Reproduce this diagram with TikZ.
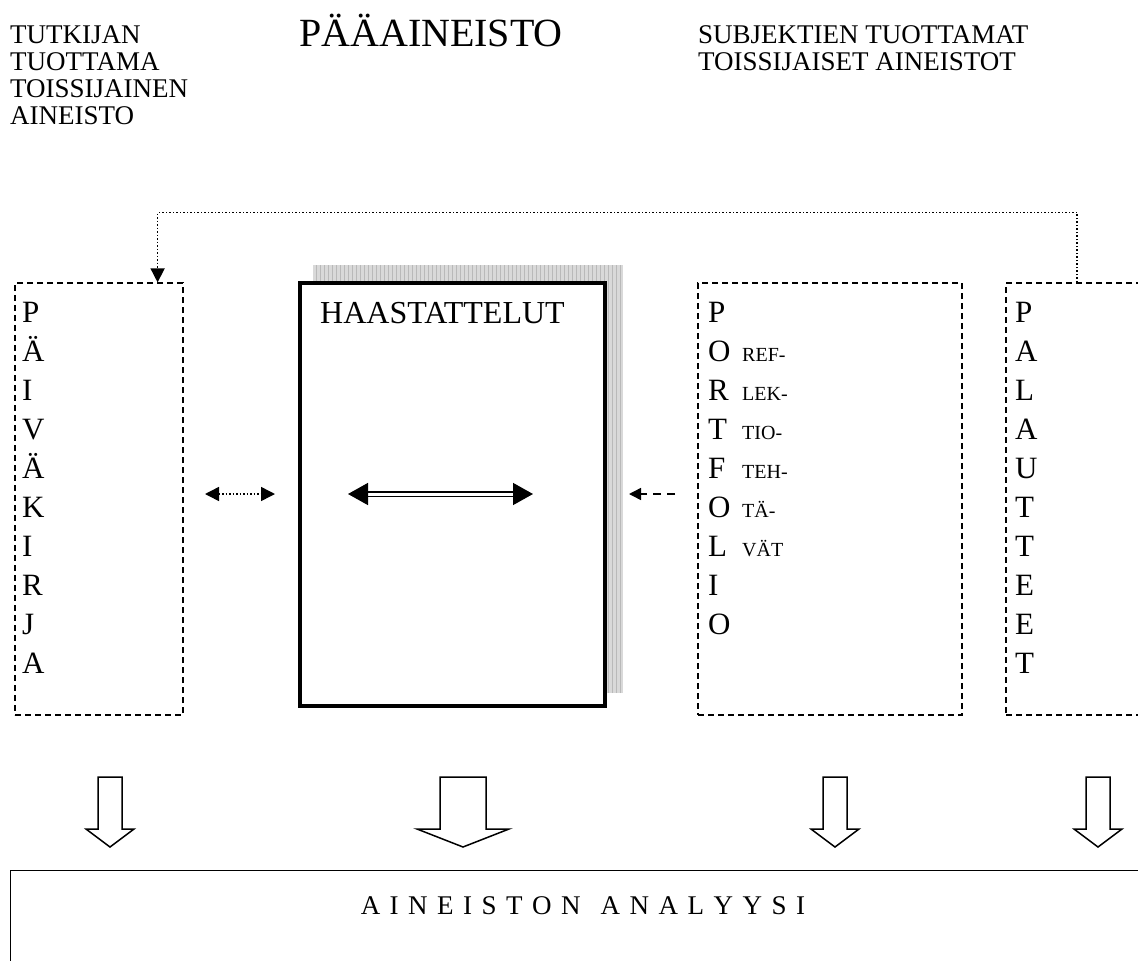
\documentclass[tikz,border=0pt]{standalone}
\usepackage{fontspec}
\setmainfont{Liberation Serif}
\usepackage{tikz}
\usetikzlibrary{arrows.meta}

% hollow arrow pointing down: x, half shaft, half head
\newcommand{\downblock}[3]{%
  \draw[blockarrow] (#1-#2,777) -- (#1+#2,777) -- (#1+#2,829) -- (#1+#3,829)
    -- (#1,847) -- (#1-#3,829) -- (#1-#2,829) -- cycle;}

\begin{document}
\begin{tikzpicture}[x=1pt, y=-1pt,
  every node/.style={inner sep=0pt},
  toptext/.style={align=left, font=\fontsize{27}{27}\selectfont},
  column/.style={align=left, font=\fontsize{31}{39}\selectfont},
  smalltext/.style={align=left, font=\fontsize{20}{39}\selectfont},
  srcbox/.style={draw=black, line width=1.2pt, dash pattern=on 6pt off 4pt},
  mainbox/.style={draw=black, fill=white, line width=4pt},
  dotlink/.style={line width=1.5pt, dash pattern=on 1.5pt off 2pt},
  dashlink/.style={line width=1.5pt, dash pattern=on 8pt off 6pt},
  blockarrow/.style={draw=black, fill=white, line width=1.5pt, line join=miter}]

\path[use as bounding box, clip] (0,0) rectangle (1138,961);

% base anchor = baseline of the last line
\node[toptext, anchor=base west] (tutkija) at (10,124) {TUTKIJAN\\TUOTTAMA\\TOISSIJAINEN\\AINEISTO};
\node[anchor=base, font=\fontsize{40}{44}\selectfont] (paa) at (431,46) {PÄÄAINEISTO};
\node[toptext, anchor=base west] (subj) at (698,70) {SUBJEKTIEN TUOTTAMAT\\TOISSIJAISET AINEISTOT};

\node[srcbox, minimum width=168, minimum height=432] (paiv) at (99,499) {};
\node[srcbox, minimum width=264, minimum height=432] (port) at (830,499) {};
\node[srcbox, minimum width=142, minimum height=432] (pal) at (1077,499) {};

% shadow of the interview box
\fill[gray!30] (313,265) rectangle (623,693);
\draw[gray!55, line width=0.3pt, step=4] (313,265) grid (623,693);
\node[mainbox, minimum width=305, minimum height=423] (haas) at (452.5,494.5) {};
\node[anchor=base west, font=\fontsize{32}{36}\selectfont] (haastxt) at (320,323) {HAASTATTELUT};

\node[column, anchor=base west] (paivtxt) at (22,673) {P\\Ä\\I\\V\\Ä\\K\\I\\R\\J\\A};
\node[column, anchor=base west] (porttxt) at (708,634) {P\\O\\R\\T\\F\\O\\L\\I\\O};
\node[smalltext, anchor=base west] (refl) at (742,556) {REF-\\LEK-\\TIO-\\TEH-\\TÄ-\\VÄT};
\node[column, anchor=base west] (paltxt) at (1015,673) {P\\A\\L\\A\\U\\T\\T\\E\\E\\T};

\draw[dotlink, -{Triangle[length=14pt,width=14pt]}] (pal.north) -- ++(0,-70) -| ([xshift=-26pt]paiv.north east);

\coordinate (dl) at (205,494);
\coordinate (dr) at (275,494);
\draw[dotlink, {Triangle[length=14pt,width=14pt]}-{Triangle[length=14pt,width=14pt]}] (dl) -- (dr);

\coordinate (hl) at (348,494);
\coordinate (hr) at (533,494);
\draw[double, double distance=3pt, line width=1.5pt, {Triangle[length=20pt,width=22pt]}-{Triangle[length=20pt,width=22pt]}] (hl) -- (hr);

\coordinate (pt) at (675,494);
\coordinate (ph) at (629,494);
\draw[dashlink, -{Triangle[length=12pt,width=12pt]}] (pt) -- (ph);

\downblock{110}{12}{24}
\downblock{463}{23}{46}
\downblock{835}{12}{24}
\downblock{1098}{12}{24}

\node[draw=black, line width=1.2pt, anchor=north west, minimum width=1200, minimum height=150] (ana) at (10,870) {};
\node[anchor=base, font=\fontsize{27}{30}\selectfont] (anatxt) at (583,914)
  {{\spaceskip=9.5pt A I N E I S T O N\hspace{20pt}A N A L Y Y S I}};

\end{tikzpicture}
\end{document}
